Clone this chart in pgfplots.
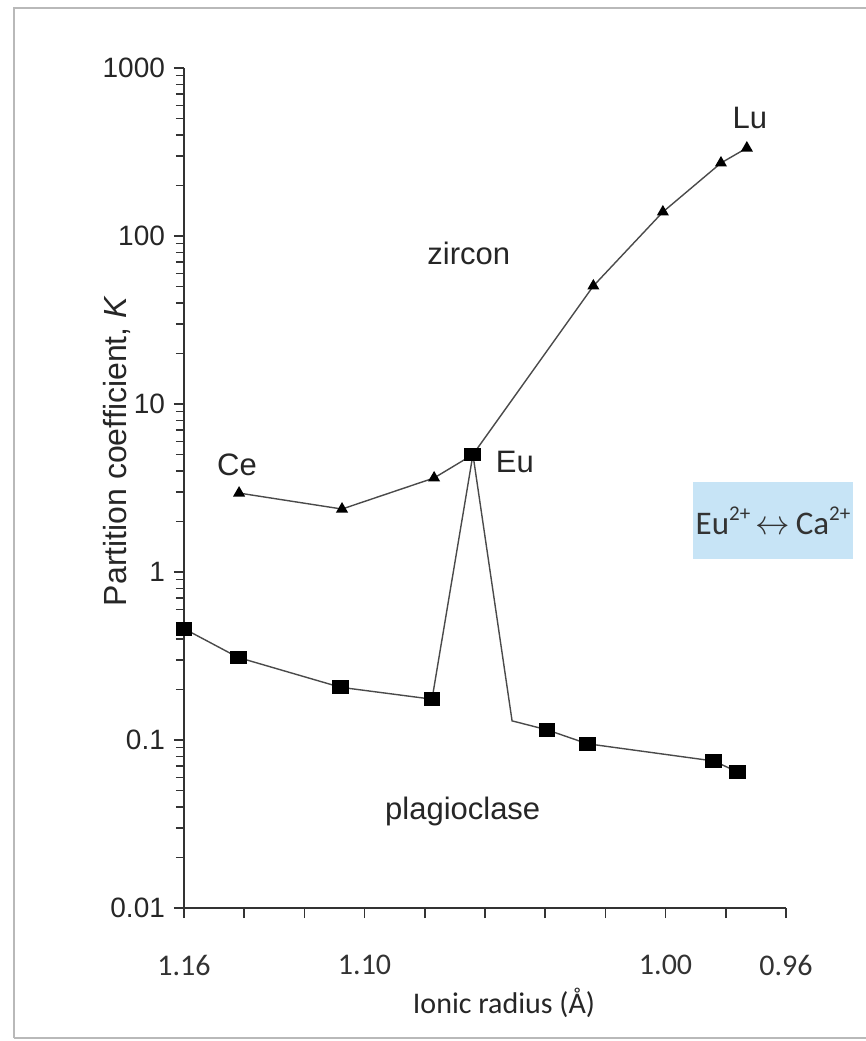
\documentclass[border=0pt]{standalone}
\usepackage{pgfplots}
\pgfplotsset{compat=1.18}
\usepackage{fontspec}
\setmainfont{Liberation Sans}
\newfontfamily\calibri{Carlito}
\definecolor{boxblue}{HTML}{C7E4F6}
\definecolor{axisgray}{HTML}{333333}
\definecolor{linegray}{HTML}{4A4A4A}
\newcommand{\sups}[1]{\raisebox{0.42em}{\fontsize{10.5}{12}\selectfont #1}}
\begin{document}
\begin{tikzpicture}
\path[use as bounding box] (-92pt,-66.5pt) rectangle (341pt,454pt);
\fill[white] (-92pt,-66.5pt) rectangle (341pt,454pt);
\draw[gray!55, line width=1pt] (-85pt,-65pt) -- (-85pt,450pt) -- (341pt,450pt);
\draw[gray!55, line width=1pt] (-85pt,-65pt) -- (341pt,-65pt);
\begin{axis}[
  at={(0pt,0pt)}, anchor=south west,
  scale only axis, width=301pt, height=420pt,
  x dir=reverse, xmin=0.96, xmax=1.16,
  ymode=log, ymin=0.01, ymax=1000,
  axis lines*=left,
  axis line style={axisgray, line width=0.75pt, -},
  clip=false,
  tick align=outside,
  tick style={axisgray, line width=0.75pt},
  major tick length=5pt, minor tick length=4pt,
  xtick={1.16,1.14,1.12,1.10,1.08,1.06,1.04,1.02,1.00,0.98,0.96},
  xticklabels={1.16,,,1.10,,,,,1.00,,0.96},
  xticklabel style={font=\calibri\fontsize{15}{18}\selectfont, text=black!80, anchor=north, yshift=-15pt},
  ytick={0.01,0.1,1,10,100,1000},
  yticklabels={0.01,0.1,1,10,100,1000},
  minor ytick={0.02,0.03,0.04,0.05,0.06,0.07,0.08,0.09,0.2,0.3,0.4,0.5,0.6,0.7,0.8,0.9,2,3,4,5,6,7,8,9,20,30,40,50,60,70,80,90,200,300,400,500,600,700,800,900},
  yticklabel style={font=\fontsize{14}{16}\selectfont, text=black!85, xshift=-1pt},
  /pgf/number format/assume math mode=true,
]
\addplot[linegray, line width=0.7pt, mark=triangle*, mark size=2.8pt,
  mark options={black, solid}, mark indices={1,2,3,5,6,7,8}]
  coordinates {(1.1417,2.95) (1.1075,2.37) (1.0769,3.63) (1.064,5.0) (1.024,50.4) (1.0009,139) (0.9816,272) (0.973,334)};
\addplot[linegray, line width=0.7pt, mark=square*, mark size=3.1pt,
  mark options={black, solid, xscale=1.25}, mark indices={1,2,3,4,5,7,8,9,10}]
  coordinates {(1.160,0.46) (1.142,0.31) (1.108,0.206) (1.0776,0.175) (1.064,5.0) (1.051,0.130) (1.0394,0.115) (1.026,0.095) (0.984,0.075) (0.976,0.0645)};
\node[font=\fontsize{15.5}{18}\selectfont, text=black!85] at (axis cs:1.1424,4.34) {Ce};
\node[font=\fontsize{15.5}{18}\selectfont, text=black!85] at (axis cs:1.0501,4.52) {Eu};
\node[font=\fontsize{15.5}{18}\selectfont, text=black!85] at (axis cs:0.972,504) {Lu};
\node[font=\fontsize{15.5}{18}\selectfont, text=black!85] at (axis cs:1.0654,79) {zircon};
\node[font=\fontsize{15.5}{18}\selectfont, text=black!85] at (axis cs:1.0674,0.0373) {plagioclase};
\end{axis}
\node[rotate=90, font=\fontsize{16}{18}\selectfont, text=black!85] at (-33.5pt,228.5pt) {Partition coefficient, \textit{K}};
\node[font=\calibri\fontsize{15}{18}\selectfont, text=black!85] at (160pt,-47.5pt) {Ionic radius (Å)};
\fill[boxblue] (254.5pt,174.5pt) rectangle (334.5pt,213pt);
\node[font=\calibri\fontsize{16.5}{18}\selectfont, text=black!80, inner sep=0pt] at (294.5pt,193.5pt) {Eu\sups{2+}\,$\leftrightarrow$\,Ca\sups{2+}};
\end{tikzpicture}
\end{document}
